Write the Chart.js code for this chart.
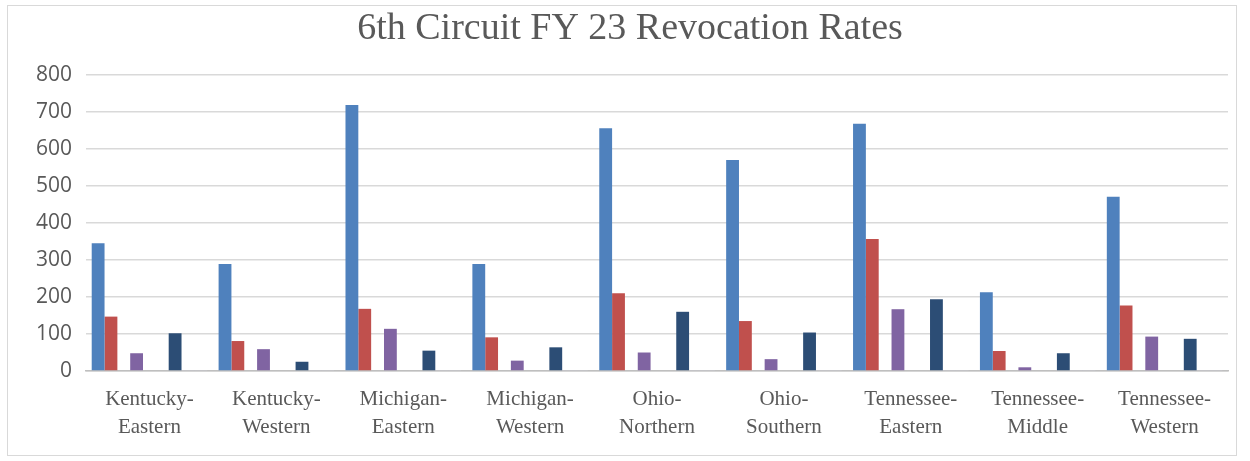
<!DOCTYPE html>
<html>
<head>
<meta charset="utf-8">
<script src="https://cdn.jsdelivr.net/npm/chart.js@4/dist/chart.umd.min.js"></script>
<style>
  html, body { margin: 0; padding: 0; background: #fff; }
  #wrap { position: relative; width: 1250px; height: 461px; }
  #frame { position: absolute; left: 7px; top: 5px; width: 1228px; height: 449px; border: 1px solid #d9d9d9; pointer-events: none; }
  canvas { position: absolute; left: 0; top: 0; }
</style>
</head>
<body>
<div id="wrap">
  <canvas id="revocations" width="1250" height="461"></canvas>
  <div id="frame"></div>
</div>
<script>
// districts of the 6th circuit
const districts = [
  ['Kentucky-', 'Eastern'], ['Kentucky-', 'Western'],
  ['Michigan-', 'Eastern'], ['Michigan-', 'Western'],
  ['Ohio-', 'Northern'], ['Ohio-', 'Southern'],
  ['Tennessee-', 'Eastern'], ['Tennessee-', 'Middle'], ['Tennessee-', 'Western']
];

// series values (empty slots kept so the bars sit where they do)
const seriesBlue   = [345, 289, 719, 289, 656, 570, 668, 213, 471];
const seriesRed    = [147, 81, 168, 91, 210, 135, 357, 54, 177];
const seriesGreen  = [0, 0, 0, 0, 0, 0, 0, 0, 0];
const seriesPurple = [48, 59, 114, 28, 50, 32, 167, 10, 93];
const seriesAqua   = [0, 0, 0, 0, 0, 0, 0, 0, 0];
const seriesOrange = [0, 0, 0, 0, 0, 0, 0, 0, 0];
const seriesNavy   = [102, 25, 55, 64, 160, 104, 194, 48, 87];
const seriesRate1  = [1, 1, 1, 1, 1, 1, 1, 1, 1];
const seriesRate2  = [1, 1, 1, 1, 1, 1, 1, 1, 1];

const yTicks = [0, 100, 200, 300, 400, 500, 600, 700, 800];

const textGrey = '#595959';

function ds(data, color) {
  return { data, backgroundColor: color, borderWidth: 0 };
}

new Chart(document.getElementById('revocations'), {
  type: 'bar',
  data: {
    labels: districts,
    datasets: [
      ds(seriesBlue, '#4f81bd'),
      ds(seriesRed, '#c0504d'),
      ds(seriesGreen, '#9bbb59'),
      ds(seriesPurple, '#8064a2'),
      ds(seriesAqua, '#4bacc6'),
      ds(seriesOrange, '#f79646'),
      ds(seriesNavy, '#2c4d75'),
      ds(seriesRate1, '#c9c9d3'),
      ds(seriesRate2, '#c9c9d3')
    ]
  },
  options: {
    responsive: false,
    animation: false,
    // left padding is wide so the title centres where the original does
    layout: { padding: { left: 32, right: 22, top: 0, bottom: 0 } },
    datasets: { bar: { categoryPercentage: 0.91, barPercentage: 1 } },
    plugins: {
      legend: { display: false },
      tooltip: { enabled: false },
      title: {
        display: true,
        text: '6th Circuit FY 23 Revocation Rates',
        color: textGrey,
        font: { family: '"Liberation Serif", serif', size: 38, weight: 'normal' },
        padding: { top: 6, bottom: 23.4 }
      }
    },
    scales: {
      x: {
        grid: { display: false },
        border: { color: '#bfbfbf', width: 1.5 },
        ticks: {
          color: textGrey,
          font: { family: '"Liberation Serif", serif', size: 21, lineHeight: 1.35 },
          maxRotation: 0,
          autoSkip: false,
          padding: 6
        },
        afterFit: (scale) => { scale.height = 90; }
      },
      y: {
        min: 0,
        max: 800,
        afterBuildTicks: (scale) => { scale.ticks = yTicks.map(v => ({ value: v })); },
        grid: { color: '#d9d9d9', lineWidth: 1.5, drawTicks: false },
        border: { display: false },
        ticks: {
          color: textGrey,
          font: { family: '"Open Sans", sans-serif', size: 21 },
          padding: 14
        },
        afterFit: (scale) => { scale.width = 54; }
      }
    }
  }
});
</script>
</body>
</html>
